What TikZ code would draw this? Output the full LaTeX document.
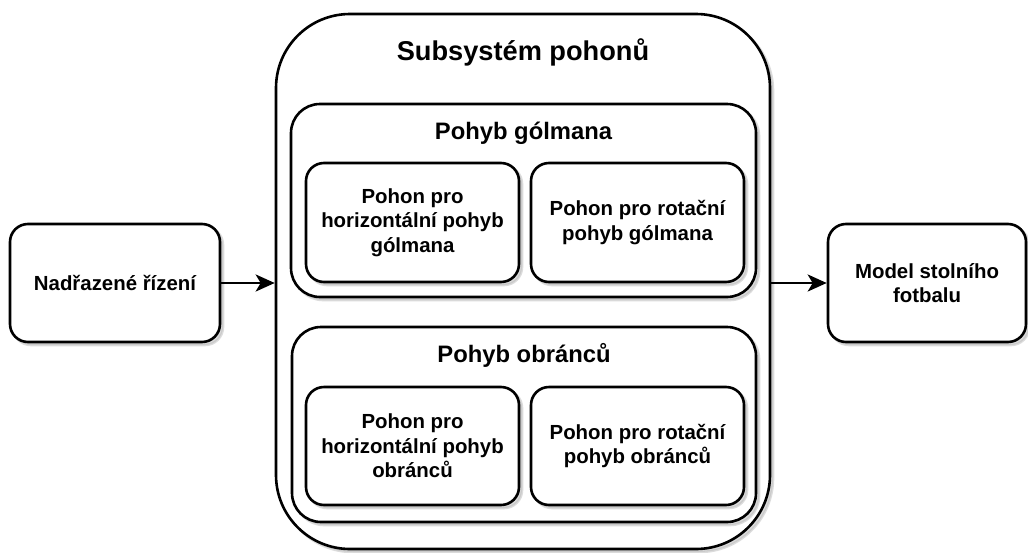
\documentclass[tikz,border=0pt]{standalone}
\usepackage{fontspec}
\setmainfont{Liberation Sans}
\usetikzlibrary{arrows.meta,shadows}
\begin{document}
\begin{tikzpicture}[x=1pt,y=-1pt,
  box/.style={draw, line width=2.6pt, fill=white, rounded corners=#1,
    align=center, inner sep=0pt,
    font=\bfseries\fontsize{20.4}{24.5}\selectfont,
    drop shadow={shadow xshift=3pt, shadow yshift=-3pt,
      fill=black!27, draw=black!27, line width=2.6pt}},
  box/.default=18pt,
  title/.style={anchor=base, inner sep=0pt, font=\bfseries\fontsize{#1}{#1}\selectfont},
  flow/.style={line width=2.6pt, -{Stealth[length=19pt, width=17pt, inset=5pt]}}
]
\useasboundingbox (0,0) rectangle (1028,552);

% outer subsystem container
\node[box=74pt, minimum width=494pt, minimum height=535pt] (sub) at (523,281.5) {};
\node[title=27.2] (subt) at (523,60.5) {Subsystém pohonů};

% goalkeeper group
\node[box=29pt, minimum width=465pt, minimum height=193pt] (gol) at (523.5,200.5) {};
\node[title=23.8] (golt) at (523.5,139) {Pohyb gólmana};
\node[box, minimum width=213pt, minimum height=119pt] (golh) at (412.5,222.5)
  {Pohon pro\\horizontální pohyb\\gólmana};
\node[box, minimum width=213pt, minimum height=119pt] (golr) at (637.5,222.5)
  {Pohon pro rotační\\pohyb gólmana};

% defenders group
\node[box=29pt, minimum width=464pt, minimum height=195pt] (obr) at (524,424.5) {};
\node[title=23.8] (obrt) at (524,362) {Pohyb obránců};
\node[box, minimum width=213pt, minimum height=118pt] (obrh) at (412.5,446)
  {Pohon pro\\horizontální pohyb\\obránců};
\node[box, minimum width=213pt, minimum height=118pt] (obrr) at (637.5,446)
  {Pohon pro rotační\\pohyb obránců};

% external blocks
\node[box, minimum width=210pt, minimum height=118pt] (ctrl) at (115,283)
  {Nadřazené řízení};
\node[box, minimum width=198pt, minimum height=118pt] (model) at (927,283)
  {Model stolního\\fotbalu};

% signal flow
\draw[flow] (ctrl.east) -- (ctrl.east -| sub.west);
\draw[flow] (model.west -| sub.east) -- (model.west);
\end{tikzpicture}
\end{document}
